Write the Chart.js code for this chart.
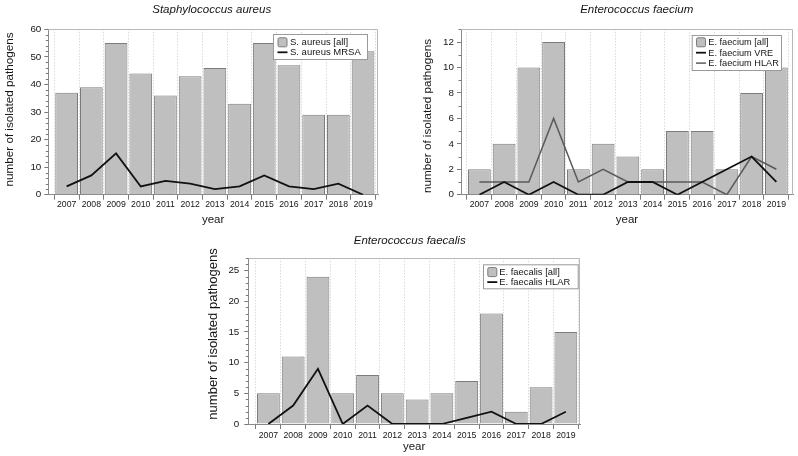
<!DOCTYPE html>
<html><head><meta charset="utf-8">
<script src="https://cdn.jsdelivr.net/npm/chart.js@4/dist/chart.umd.min.js"></script>
<style>
html,body{margin:0;padding:0;background:#fff;width:798px;height:456px;overflow:hidden}
.box{position:absolute}
canvas{display:block}
</style></head><body>
<div class="box" style="left:0;top:0;width:400px;height:228px"><canvas id="c1" width="400" height="228"></canvas></div>
<div class="box" style="left:400px;top:0;width:398px;height:228px"><canvas id="c2" width="398" height="228"></canvas></div>
<div class="box" style="left:200px;top:228px;width:400px;height:228px"><canvas id="c3" width="400" height="228"></canvas></div>
<script>
const years = ['2007','2008','2009','2010','2011','2012','2013','2014','2015','2016','2017','2018','2019'];
const saureusAll = [37,39,55,44,36,43,46,33,55,47,29,29,52];
const saureusMRSA = [3,7,15,3,5,4,2,3,7,3,2,4,0];
const efaeciumAll = [2,4,10,12,2,4,3,2,5,5,2,8,10];
const efaeciumVRE = [0,1,0,1,0,0,1,1,0,1,2,3,1];
const efaeciumHLAR = [1,1,1,6,1,2,1,1,1,1,0,3,2];
const efaecalisAll = [5,11,24,5,8,5,4,5,7,18,2,6,15];
const efaecalisHLAR = [0,3,9,0,3,0,0,0,1,2,0,0,2];
const yTicks1 = [0,10,20,30,40,50,60];
const yTicks2 = [0,2,4,6,8,10,12];
const yTicks3 = [0,5,10,15,20,25];
const yAxisTitle = 'number of isolated pathogens';

const F = "'Liberation Sans', Arial, Helvetica, sans-serif";
const INK = '#151515';
Chart.defaults.font.family = F;
Chart.defaults.color = INK;

const decor = {
  id: 'decor',
  afterDatasetsDraw(chart, args, o) {
    const ctx = chart.ctx, ca = chart.chartArea, y = chart.scales.y;
    ctx.save();
    ctx.lineWidth = 1;
    ctx.strokeStyle = o.frameColor;
    ctx.beginPath();
    const t = Math.round(ca.top) + 0.5, r = Math.round(ca.right) - 0.5;
    ctx.moveTo(ca.left, t); ctx.lineTo(r, t); ctx.lineTo(r, ca.bottom);
    ctx.stroke();
    ctx.strokeStyle = o.tickColor;
    for (let v = 0; v <= y.max + 1e-9; v += o.minorStep) {
      if (o.majors.includes(v)) continue;
      const py = Math.round(y.getPixelForValue(v)) + 0.5;
      ctx.beginPath(); ctx.moveTo(ca.left - 2.5, py); ctx.lineTo(ca.left, py); ctx.stroke();
    }
    const L = o.legend;
    ctx.fillStyle = '#fff';
    ctx.fillRect(L.x, L.y, L.w, L.h);
    ctx.strokeStyle = '#9a9a9a';
    ctx.strokeRect(L.x + 0.5, L.y + 0.5, L.w, L.h);
    ctx.font = L.size + 'px ' + F;
    ctx.textBaseline = 'middle';
    ctx.textAlign = 'left';
    chart.data.datasets.forEach((ds, i) => {
      const cy = L.y + L.first + i * L.step;
      if (ds.type === 'bar') {
        ctx.fillStyle = ds.backgroundColor;
        ctx.strokeStyle = ds.borderColor;
        ctx.beginPath();
        if (ctx.roundRect) ctx.roundRect(L.sx + 0.5, cy - 4.5, 9, 9, 1.5); else ctx.rect(L.sx + 0.5, cy - 4.5, 9, 9);
        ctx.fill(); ctx.stroke();
      } else {
        ctx.strokeStyle = ds.borderColor;
        ctx.lineWidth = ds.borderWidth;
        ctx.beginPath(); ctx.moveTo(L.sx, cy); ctx.lineTo(L.sx + 10, cy); ctx.stroke();
        ctx.lineWidth = 1;
      }
      ctx.fillStyle = INK;
      ctx.fillText(ds.label, L.tx, cy + 0.5);
    });
    ctx.restore();
  },
  afterDraw(chart, args, o) {
    const ctx = chart.ctx;
    ctx.save();
    ctx.fillStyle = INK;
    ctx.textAlign = 'center';
    ctx.textBaseline = 'middle';
    ctx.font = 'italic 11.5px ' + F;
    ctx.fillText(o.title.text, o.title.x, o.title.y);
    ctx.translate(o.ytitle.x, o.ytitle.y);
    ctx.rotate(-Math.PI / 2);
    ctx.font = o.ytitle.size + 'px ' + F;
    ctx.fillText(yAxisTitle, 0, 0);
    ctx.restore();
  }
};

function makeChart(id, g) {
  const datasets = [{
    type: 'bar', label: g.barLabel,
    data: g.bar.map((v, i) => ({x: i, y: v})),
    backgroundColor: '#bfbfbf', borderColor: '#7c7c7c', borderWidth: 1,
    barPercentage: 0.92, categoryPercentage: 1, order: 5
  }];
  g.lines.forEach(ln => datasets.push({
    type: 'line', label: ln.label,
    data: ln.data.map((v, i) => ({x: i, y: v})),
    borderColor: ln.color, borderWidth: ln.width, pointRadius: 0,
    fill: false, tension: 0, order: ln.order
  }));
  return new Chart(document.getElementById(id), {
    type: 'bar',
    data: {datasets},
    options: {
      responsive: false, animation: false, events: [],
      layout: {padding: {top: g.top, right: g.right, bottom: 0, left: 0}},
      plugins: {
        legend: {display: false}, tooltip: {enabled: false},
        decor: {frameColor: '#b8b8b8', tickColor: '#7a7a7a', minorStep: g.minorStep, majors: g.yTicks,
                legend: g.legend, title: g.title, ytitle: g.ytitle}
      },
      scales: {
        x: {
          type: 'linear', min: g.xMin, max: g.xMax, offset: false,
          afterBuildTicks: s => { s.ticks = years.map((_, i) => ({value: i})); },
          afterFit: s => { s.height = g.xHeight; },
          ticks: {autoSkip: false, maxRotation: 0, padding: g.xTickPad, color: INK, font: {size: 8.7},
                  callback: v => years[v]},
          grid: {offset: true, color: '#c9c9c9', lineWidth: 1, tickLength: 5, tickColor: '#7a7a7a', tickBorderDash: [], drawOnChartArea: true},
          border: {color: '#8a8a8a', width: 1, dash: [1, 2]},
          title: {display: true, text: 'year', font: {size: 11.5}, color: INK, padding: {top: 0, bottom: g.xTitlePad}}
        },
        y: {
          min: 0, max: g.yMax,
          afterBuildTicks: s => { s.ticks = g.yTicks.map(v => ({value: v})); },
          afterFit: s => { s.width = g.yWidth; },
          ticks: {padding: g.yTickPad, color: INK, font: {size: 9.8}},
          grid: {drawOnChartArea: false, tickLength: 4, tickColor: '#7a7a7a', color: '#7a7a7a'},
          border: {color: '#8a8a8a', width: 1}
        }
      }
    },
    plugins: [decor]
  });
}

makeChart('c1', {
  barLabel: 'S. aureus [all]', bar: saureusAll,
  lines: [{label: 'S. aureus MRSA', data: saureusMRSA, color: '#111', width: 1.8, order: 1}],
  top: 29.3, right: 22, yWidth: 48.3, xHeight: 33.3, xMin: -0.743, xMax: 12.605,
  yMax: 60, yTicks: yTicks1, minorStep: 2, yTickPad: 3, xTickPad: 0, xTitlePad: 1,
  ytitle: {x: 9.5, y: 109.5, size: 11.7},
  legend: {x: 273, y: 34, w: 94, h: 25, first: 8.3, step: 10, sx: 277.5, tx: 290, size: 9.5},
  title: {text: 'Staphylococcus aureus', x: 211.7, y: 9.5}
});

makeChart('c2', {
  barLabel: 'E. faecium [all]', bar: efaeciumAll,
  lines: [
    {label: 'E. faecium VRE', data: efaeciumVRE, color: '#111', width: 1.8, order: 0},
    {label: 'E. faecium HLAR', data: efaeciumHLAR, color: '#5a5a5a', width: 1.5, order: 1}
  ],
  top: 29.3, right: 5, yWidth: 61, xHeight: 33.3, xMin: -0.742, xMax: 12.672,
  yMax: 13, yTicks: yTicks2, minorStep: 1, yTickPad: 3, xTickPad: 0, xTitlePad: 1,
  ytitle: {x: 28, y: 116, size: 11.7},
  legend: {x: 291.7, y: 35, w: 89.3, h: 35, first: 7.3, step: 10.4, sx: 296, tx: 308.3, size: 9.2},
  title: {text: 'Enterococcus faecium', x: 236.7, y: 9.3}
});

makeChart('c3', {
  barLabel: 'E. faecalis [all]', bar: efaecalisAll,
  lines: [{label: 'E. faecalis HLAR', data: efaecalisHLAR, color: '#111', width: 1.8, order: 1}],
  top: 30.3, right: 20, yWidth: 48.3, xHeight: 32, xMin: -0.81, xMax: 12.57,
  yMax: 27, yTicks: yTicks3, minorStep: 1, yTickPad: 5, xTickPad: 1.5, xTitlePad: 2.4,
  ytitle: {x: 13.3, y: 106, size: 13},
  legend: {x: 283, y: 36.3, w: 94.7, h: 24, first: 7.8, step: 10, sx: 287.3, tx: 299.3, size: 9.4},
  title: {text: 'Enterococcus faecalis', x: 209.7, y: 13}
});
</script>
</body></html>
